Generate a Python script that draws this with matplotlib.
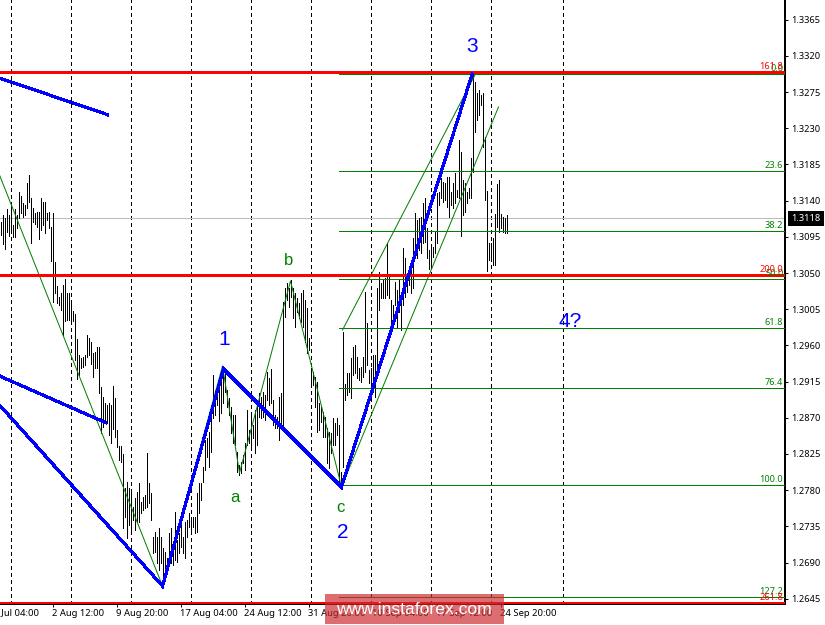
# plot.py
# GBP/USD H4 wave count chart with fibonacci levels.

import matplotlib
matplotlib.use("Agg")
import matplotlib.pyplot as plt
from matplotlib.patches import Rectangle
from matplotlib.transforms import blended_transform_factory
import numpy as np

# bar highs and lows, one pair per H4 bar
bar_high = [
    1.3113, 1.3122, 1.3118, 1.3130, 1.3122, 1.3135, 1.3110, 1.3130, 1.3122, 1.3151,
    1.3146, 1.3137, 1.3135, 1.3162, 1.3172, 1.3143, 1.3131, 1.3125, 1.3126, 1.3126,
    1.3143, 1.3138, 1.3138, 1.3125, 1.3126, 1.3107, 1.3125, 1.3064, 1.3034, 1.3020,
    1.3025, 1.3035, 1.3043, 1.3025, 1.3025, 1.3013, 1.3003, 1.2999, 1.2968, 1.2948,
    1.2944, 1.2946, 1.2948, 1.2973, 1.2969, 1.2964, 1.2951, 1.2952, 1.2958, 1.2958,
    1.2908, 1.2896, 1.2888, 1.2886, 1.2888, 1.2886, 1.2910, 1.2895, 1.2855, 1.2835,
    1.2835, 1.2825, 1.2783, 1.2790, 1.2783, 1.2777, 1.2759, 1.2770, 1.2778, 1.2789,
    1.2765, 1.2772, 1.2774, 1.2826, 1.2789, 1.2777, 1.2722, 1.2728, 1.2722, 1.2733,
    1.2722, 1.2708, 1.2703, 1.2696, 1.2727, 1.2733, 1.2708, 1.2753, 1.2718, 1.2727,
    1.2743, 1.2722, 1.2740, 1.2743, 1.2752, 1.2747, 1.2747, 1.2747, 1.2777, 1.2789,
    1.2789, 1.2809, 1.2842, 1.2845, 1.2852, 1.2882, 1.2923, 1.2905, 1.2905, 1.2919,
    1.2919, 1.2932, 1.2927, 1.2905, 1.2895, 1.2883, 1.2873, 1.2873, 1.2827, 1.2811,
    1.2815, 1.2824, 1.2839, 1.2880, 1.2855, 1.2873, 1.2861, 1.2880, 1.2890, 1.2901,
    1.2896, 1.2902, 1.2898, 1.2927, 1.2919, 1.2931, 1.2892, 1.2873, 1.2871, 1.2896,
    1.2901, 1.3014, 1.3031, 1.3038, 1.3031, 1.3041, 1.3031, 1.3025, 1.3019, 1.3013,
    1.3025, 1.3029, 1.3016, 1.3006, 1.2969, 1.2932, 1.2927, 1.2921, 1.2915, 1.2888,
    1.2883, 1.2877, 1.2871, 1.2857, 1.2852, 1.2851, 1.2870, 1.2864, 1.2870, 1.2861,
    1.2803, 1.2977, 1.2912, 1.2926, 1.2926, 1.2944, 1.2958, 1.2960, 1.2946, 1.2932,
    1.2933, 1.2946, 1.3026, 1.2988, 1.2929, 1.2932, 1.2948, 1.2948, 1.3031, 1.3051,
    1.3038, 1.3041, 1.3044, 1.3087, 1.3048, 1.3016, 1.3010, 1.3039, 1.3029, 1.3041,
    1.3026, 1.3081, 1.3069, 1.3048, 1.3054, 1.3062, 1.3094, 1.3125, 1.3116, 1.3118,
    1.3120, 1.3137, 1.3143, 1.3106, 1.3079, 1.3082, 1.3082, 1.3101, 1.3149, 1.3151,
    1.3168, 1.3163, 1.3162, 1.3169, 1.3169, 1.3151, 1.3162, 1.3174, 1.3153, 1.3215,
    1.3200, 1.3166, 1.3162, 1.3151, 1.3156, 1.3193, 1.3296, 1.3287, 1.3274, 1.3277,
    1.3271, 1.3274, 1.3219, 1.3152, 1.3087, 1.3087, 1.3094, 1.3123, 1.3161, 1.3166,
    1.3123, 1.3120, 1.3118, 1.3122,
]
bar_low = [
    1.3097, 1.3086, 1.3080, 1.3101, 1.3096, 1.3100, 1.3095, 1.3095, 1.3106, 1.3118,
    1.3125, 1.3120, 1.3122, 1.3131, 1.3138, 1.3087, 1.3113, 1.3111, 1.3107, 1.3092,
    1.3103, 1.3110, 1.3100, 1.3116, 1.3106, 1.3065, 1.3014, 1.3025, 1.3013, 1.3010,
    1.3004, 1.2973, 1.2990, 1.2992, 1.2992, 1.2988, 1.2990, 1.2942, 1.2918, 1.2923,
    1.2932, 1.2933, 1.2936, 1.2946, 1.2948, 1.2937, 1.2921, 1.2932, 1.2932, 1.2901,
    1.2851, 1.2859, 1.2867, 1.2864, 1.2849, 1.2839, 1.2856, 1.2846, 1.2834, 1.2818,
    1.2815, 1.2733, 1.2747, 1.2721, 1.2737, 1.2729, 1.2743, 1.2731, 1.2740, 1.2740,
    1.2752, 1.2755, 1.2758, 1.2759, 1.2764, 1.2743, 1.2702, 1.2703, 1.2690, 1.2681,
    1.2690, 1.2662, 1.2678, 1.2681, 1.2691, 1.2690, 1.2687, 1.2693, 1.2691, 1.2702,
    1.2709, 1.2702, 1.2696, 1.2722, 1.2734, 1.2731, 1.2734, 1.2727, 1.2728, 1.2752,
    1.2768, 1.2790, 1.2805, 1.2821, 1.2809, 1.2827, 1.2870, 1.2873, 1.2886, 1.2866,
    1.2876, 1.2888, 1.2902, 1.2883, 1.2873, 1.2851, 1.2839, 1.2836, 1.2803, 1.2799,
    1.2801, 1.2814, 1.2805, 1.2836, 1.2839, 1.2832, 1.2845, 1.2826, 1.2836, 1.2871,
    1.2870, 1.2871, 1.2867, 1.2892, 1.2886, 1.2888, 1.2861, 1.2857, 1.2857, 1.2842,
    1.2864, 1.2861, 1.2995, 1.3016, 1.3008, 1.3020, 1.2994, 1.2983, 1.3002, 1.2994,
    1.2989, 1.2983, 1.2964, 1.2951, 1.2954, 1.2913, 1.2911, 1.2883, 1.2852, 1.2855,
    1.2865, 1.2846, 1.2846, 1.2814, 1.2808, 1.2826, 1.2836, 1.2836, 1.2849, 1.2789,
    1.2783, 1.2809, 1.2892, 1.2898, 1.2902, 1.2895, 1.2923, 1.2926, 1.2919, 1.2917,
    1.2915, 1.2921, 1.2927, 1.2936, 1.2913, 1.2907, 1.2902, 1.2896, 1.2926, 1.3004,
    1.3019, 1.3019, 1.3019, 1.3023, 1.3019, 1.2988, 1.2989, 1.3010, 1.2982, 1.3002,
    1.2979, 1.3010, 1.3020, 1.3026, 1.3035, 1.3025, 1.3031, 1.3079, 1.3069, 1.3079,
    1.3075, 1.3087, 1.3089, 1.3069, 1.3055, 1.3060, 1.3070, 1.3075, 1.3087, 1.3135,
    1.3143, 1.3138, 1.3141, 1.3132, 1.3120, 1.3135, 1.3131, 1.3137, 1.3144, 1.3143,
    1.3096, 1.3122, 1.3126, 1.3137, 1.3143, 1.3143, 1.3176, 1.3225, 1.3240, 1.3246,
    1.3259, 1.3207, 1.3141, 1.3052, 1.3066, 1.3070, 1.3060, 1.3060, 1.3107, 1.3101,
    1.3106, 1.3101, 1.3100, 1.3100,
]

# drawn lines, bar index and price of each vertex
blue_main_x = [-0.75, 80.75, 111.25, 170.25, 235.75]
blue_main_y = [1.28859, 1.26609, 1.29307, 1.27840, 1.32986]
blue_upper_x = [-0.75, 53.75]
blue_upper_y = [1.32924, 1.32464]
blue_lower_x = [-0.75, 52.75]
blue_lower_y = [1.29220, 1.28635]
green_wave_x = [-0.75, 80.75, 110.75, 119.25, 144.75, 170.25]
green_wave_y = [1.31718, 1.26609, 1.29344, 1.28014, 1.30401, 1.27840]
channel_upper_x = [170.75, 237.75]
channel_upper_y = [1.29791, 1.32999]
channel_lower_x = [170.25, 248.75]
channel_lower_y = [1.27840, 1.32564]
red_dot_x = [170.25, 205.75]
red_dot_y = [1.27840, 1.30637]

# fibonacci levels
fib_labels = ["0.0", "23.6", "38.2", "50.0", "61.8", "76.4", "100.0", "127.2"]
fib_prices = [1.3297, 1.3177, 1.3102, 1.3042, 1.2982, 1.2907, 1.2787, 1.2647]
fib_start = 168.75
red_labels = ["161.8", "200.0", "261.8"]
red_prices = [1.33005, 1.30475, 1.2640]
last_price = 1.3118

# wave labels: text, bar index, price, colour
wave_labels = [
    ("3", 235.5, 1.3332, "#0000ff"),
    ("1", 111.5, 1.2967, "#0000ff"),
    ("2", 170.75, 1.2727, "#0000ff"),
    ("4?", 284.75, 1.2990, "#0000ff"),
    ("b", 144.0, 1.3066, "#008000"),
    ("a", 116.75, 1.27705, "#008000"),
    ("c", 169.5, 1.2758, "#008000"),
]

grid_bars = [5, 35, 65, 95, 125, 155, 185, 215, 245, 281]
date_bars = [-6, 26, 58, 90, 122, 154, 186, 218, 250]
date_labels = ["26 Jul 04:00", "2 Aug 12:00", "9 Aug 20:00", "17 Aug 04:00", "24 Aug 12:00",
               "31 Aug 20:00", "10 Sep 04:00", "17 Sep 12:00", "24 Sep 20:00"]
price_ticks = [1.2645, 1.2690, 1.2735, 1.2780, 1.2825, 1.2870, 1.2915, 1.2960, 1.3005,
               1.3050, 1.3095, 1.3140, 1.3185, 1.3230, 1.3275, 1.3320, 1.3365]

PX = 0.72  # one pixel in points at dpi 100
FONT = ["Noto Sans", "DejaVu Sans"]
X_LEFT, X_RIGHT = -0.5, 392.0

fig = plt.figure(figsize=(8.25, 6.25), dpi=100, facecolor="white")
ax = fig.add_axes([0, 21 / 625, 785 / 825, 604 / 625])
ax.set_xlim(X_LEFT, X_RIGHT)
ax.set_ylim(1.26385, 1.33894)

for s in ["top", "left"]:
    ax.spines[s].set_visible(False)
ax.spines["right"].set_linewidth(2 * PX)
ax.spines["bottom"].set_linewidth(PX)

# weekly grid
ax.vlines(grid_bars, 1.26385, 1.33894, color="black", lw=PX, linestyles=(0, (3, 3)),
          antialiased=False, zorder=1)
ax.axhline(last_price, color="#bbbbbb", lw=PX, antialiased=False, zorder=1)

bars = np.arange(len(bar_high))
ax.vlines(bars, bar_low, bar_high, color="black", lw=PX, antialiased=False, zorder=2)

for price in fib_prices:
    ax.hlines(price, fib_start, X_RIGHT, color="#008000", lw=PX, antialiased=False, zorder=3)
ax.plot(green_wave_x, green_wave_y, color="#008000", lw=PX, zorder=3)
ax.plot(channel_upper_x, channel_upper_y, color="#008000", lw=PX, zorder=3)
ax.plot(channel_lower_x, channel_lower_y, color="#008000", lw=PX, zorder=3)

ax.hlines(red_prices[:2], X_LEFT, X_RIGHT, color="#ff0000", lw=3.0 * PX, antialiased=False, zorder=4)
ax.hlines(red_prices[2], X_LEFT, X_RIGHT, color="#ff0000", lw=1.5 * PX, antialiased=False, zorder=4,
          clip_on=False)
ax.plot(red_dot_x, red_dot_y, color="#ff0000", lw=1.5 * PX, linestyle=(0, (2, 3)), zorder=4)

blue_kw = dict(color="#0000ff", lw=2.2 * PX, antialiased=False, zorder=5, solid_capstyle="butt")
ax.plot(blue_main_x, blue_main_y, solid_joinstyle="miter", **blue_kw)
ax.plot(blue_upper_x, blue_upper_y, **blue_kw)
ax.plot(blue_lower_x, blue_lower_y, **blue_kw)

for text, x, y, col in wave_labels:
    size = 15 if col == "#0000ff" else 12
    ax.text(x, y, text, color=col, fontsize=size, family=["Liberation Sans"],
            ha="center", va="center", zorder=6)

# level captions sit just above their line at the right edge
for label, price in zip(fib_labels, fib_prices):
    ax.text(391.1, price + 0.00012, label, color="#008000", fontsize=6.6, family=FONT,
            ha="right", va="bottom", zorder=6)
for label, price in zip(red_labels, red_prices):
    ax.text(391.1, price + 0.00012, label, color="#ff0000", fontsize=6.6, family=FONT,
            ha="right", va="bottom", zorder=6)

# axes
ax.yaxis.tick_right()
ax.set_yticks(price_ticks)
ax.set_yticklabels([f"{p:.4f}" for p in price_ticks], fontsize=6.7, family=FONT)
ax.tick_params(axis="y", length=3 * PX, width=PX, pad=2, color="black")
ax.set_xticks([b for b in date_bars if b >= 0])
ax.set_xticklabels([])
ax.tick_params(axis="x", length=3 * PX, width=PX)

trans = blended_transform_factory(ax.transData, ax.transAxes)
for b, label in zip(date_bars, date_labels):
    ax.text(b - 0.4, -0.0075, label, transform=trans, fontsize=6.8, family=FONT,
            ha="left", va="top", clip_on=False)

# current price box
ax.text(1.0 + 6 / 785, last_price, f"{last_price:.4f}", transform=ax.get_yaxis_transform(),
        color="white", fontsize=6.7, family=FONT, fontweight="bold",
        ha="left", va="center", zorder=7, clip_on=False,
        bbox=dict(boxstyle="square,pad=0.35", fc="black", ec="black", lw=0))

# broker watermark over the bottom axis
fig.add_artist(Rectangle((325 / 825, 1 / 625), 179 / 825, 30 / 625, transform=fig.transFigure,
                         facecolor="#cc2a2f", alpha=0.68, edgecolor="none", zorder=10))
fig.text(414 / 825, 16 / 625, "www.instaforex.com", color="white", fontsize=12.6,
         family=["Liberation Sans"], ha="center", va="center", zorder=11)

fig.savefig("out.png", dpi=100)
